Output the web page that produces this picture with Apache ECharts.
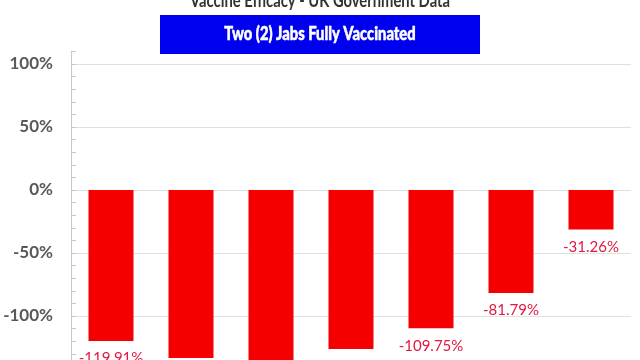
<!DOCTYPE html>
<html>
<head>
<meta charset="utf-8">
<script src="https://cdn.jsdelivr.net/npm/echarts@6/dist/echarts.min.js"></script>
<style>
html,body{margin:0;padding:0;background:#fff;overflow:hidden;width:640px;height:360px;}
#c{width:640px;height:400px;}
</style>
</head>
<body>
<div id="c"></div>
<script>
var categories = ['Age 18-29', 'Age 30-39', 'Age 40-49', 'Age 50-59', 'Age 60-69', 'Age 70-79', 'Age 80+'];
var efficacy = [-119.91, -133.28, -141.80, -126.20, -109.75, -81.79, -31.26];
var titleText = 'Vaccine Efficacy - UK Government Data';
var subtitleText = 'Two (2) Jabs Fully Vaccinated';

var chart = echarts.init(document.getElementById('c'), null, {renderer: 'canvas'});
chart.setOption({
  animation: false,
  backgroundColor: '#ffffff',
  graphic: [
    {type: 'text', z: 100, x: 320, y: 10, scaleX: 0.82, originX: 0,
     style: {text: titleText, font: 'bold 18px Lato', fill: '#333333', align: 'center', verticalAlign: 'bottom'}},
    {type: 'rect', z: 100, shape: {x: 160, y: 15, width: 320, height: 39}, style: {fill: '#0000f0'}},
    {type: 'text', z: 101, x: 320, y: 34.5, scaleX: 0.82, originX: 0,
     style: {text: subtitleText, font: '900 18px Lato', fill: '#ffffff', align: 'center', verticalAlign: 'middle',
             stroke: '#ffffff', lineWidth: 0.5}}
  ],
  grid: {left: 71, right: 9, top: 51.4, bottom: 21, outerBoundsMode: 'none'},
  xAxis: {
    type: 'category',
    data: categories,
    axisLine: {show: false},
    axisTick: {show: false},
    axisLabel: {show: false}
  },
  yAxis: {
    type: 'value',
    min: -150,
    max: 110,
    interval: 50,
    axisLine: {show: true, lineStyle: {color: '#c8c8c8'}},
    axisTick: {show: true, inside: true, length: 5, lineStyle: {color: '#c8c8c8'}},
    minorTick: {show: true, splitNumber: 5, length: 5, lineStyle: {color: '#c8c8c8'}},
    splitLine: {show: true, showMaxLine: false, lineStyle: {color: '#e0e0e0'}},
    axisLabel: {
      margin: 18,
      color: '#595959',
      fontFamily: 'Lato',
      fontWeight: 'bold',
      fontSize: 17,
      formatter: function (v) { return v > 105 || v < -140 ? '' : v + '%'; }
    }
  },
  series: [{
    type: 'bar',
    data: efficacy,
    barWidth: 45,
    itemStyle: {color: '#f50000'},
    label: {
      show: true,
      position: 'bottom',
      distance: 10,
      color: '#e3173f',
      fontFamily: 'Lato',
      fontSize: 15,
      formatter: function (p) { return p.value.toFixed(2) + '%'; }
    }
  }]
});
</script>
</body>
</html>
